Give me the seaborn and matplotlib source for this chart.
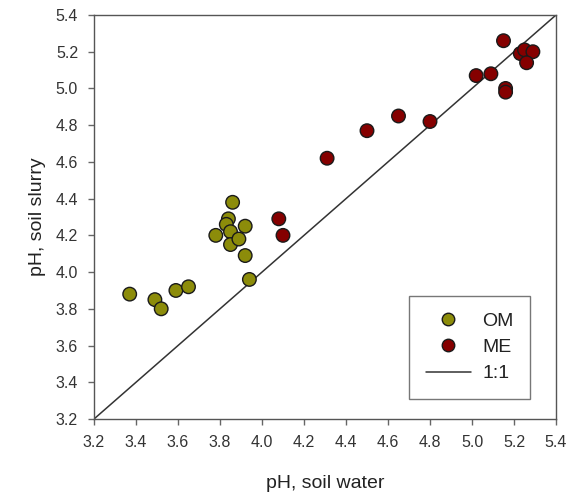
import matplotlib
matplotlib.use("Agg")
import matplotlib.pyplot as plt
import seaborn as sns
import pandas as pd
from matplotlib.lines import Line2D

sns.set_style("white")
plt.rcParams['font.family'] = ['Liberation Sans', 'DejaVu Sans']

om_water = [3.37, 3.49, 3.52, 3.59, 3.65, 3.78, 3.86, 3.84, 3.83, 3.85, 3.85, 3.89, 3.92, 3.92, 3.94]
om_slurry = [3.88, 3.85, 3.80, 3.90, 3.92, 4.20, 4.38, 4.29, 4.26, 4.22, 4.15, 4.18, 4.25, 4.09, 3.96]
me_water = [4.08, 4.10, 4.31, 4.50, 4.65, 4.80, 5.02, 5.09, 5.15, 5.16, 5.16, 5.23, 5.25, 5.29, 5.26]
me_slurry = [4.29, 4.20, 4.62, 4.77, 4.85, 4.82, 5.07, 5.08, 5.26, 5.00, 4.98, 5.19, 5.21, 5.20, 5.14]
ticks = [3.2, 3.4, 3.6, 3.8, 4.0, 4.2, 4.4, 4.6, 4.8, 5.0, 5.2, 5.4]

df = pd.DataFrame({
    "water": om_water + me_water,
    "slurry": om_slurry + me_slurry,
    "group": ["OM"] * len(om_water) + ["ME"] * len(me_water),
})
palette = {"OM": "#8c8c0a", "ME": "#850000"}

fig = plt.figure(figsize=(5.74, 4.94), dpi=100)
ax = fig.add_axes([94 / 574, 1 - 419 / 494, (556 - 94) / 574, (419 - 15) / 494])

ax.plot([3.2, 5.4], [3.2, 5.4], color="#333333", lw=1.1, zorder=1)
sns.scatterplot(data=df, x="water", y="slurry", hue="group", palette=palette,
                s=95, edgecolor="#1a1a1a", linewidth=1.0, ax=ax, legend=False, zorder=3)

ax.set_xlim(3.2, 5.4)
ax.set_ylim(3.2, 5.4)
ax.set_xticks(ticks)
ax.set_yticks(ticks)
ax.set_xticklabels([f"{t:.1f}" for t in ticks])
ax.set_yticklabels([f"{t:.1f}" for t in ticks])
ax.tick_params(axis="both", direction="out", length=4.5, width=1, color="#666666",
               labelsize=11.5, labelcolor="#333333", bottom=True, left=True)
ax.tick_params(axis="x", pad=7)
ax.tick_params(axis="y", pad=7)
for sp in ax.spines.values():
    sp.set_color("#555555")
    sp.set_linewidth(1.0)

ax.set_xlabel("pH, soil water", fontsize=14, color="#222222", labelpad=18)
ax.set_ylabel("pH, soil slurry", fontsize=14, color="#222222", labelpad=7)

handles = [
    Line2D([], [], marker="o", ls="", markerfacecolor=palette["OM"], markeredgecolor="#1a1a1a", markersize=9),
    Line2D([], [], marker="o", ls="", markerfacecolor=palette["ME"], markeredgecolor="#1a1a1a", markersize=9),
    Line2D([], [], color="#333333", lw=1.1),
]
leg = ax.legend(handles, ["OM", "ME", "1:1"], loc="lower right", bbox_to_anchor=(0.944, 0.0495),
                fontsize=14, frameon=True, fancybox=False, edgecolor="#555555",
                borderpad=0.85, labelspacing=0.45, handlelength=2.3, handletextpad=0.6,
                borderaxespad=0)
leg._legend_box.align = "left"
leg.get_frame().set_linewidth(1.0)
for t in leg.get_texts():
    t.set_color("#222222")

fig.savefig("out.png", dpi=100)
